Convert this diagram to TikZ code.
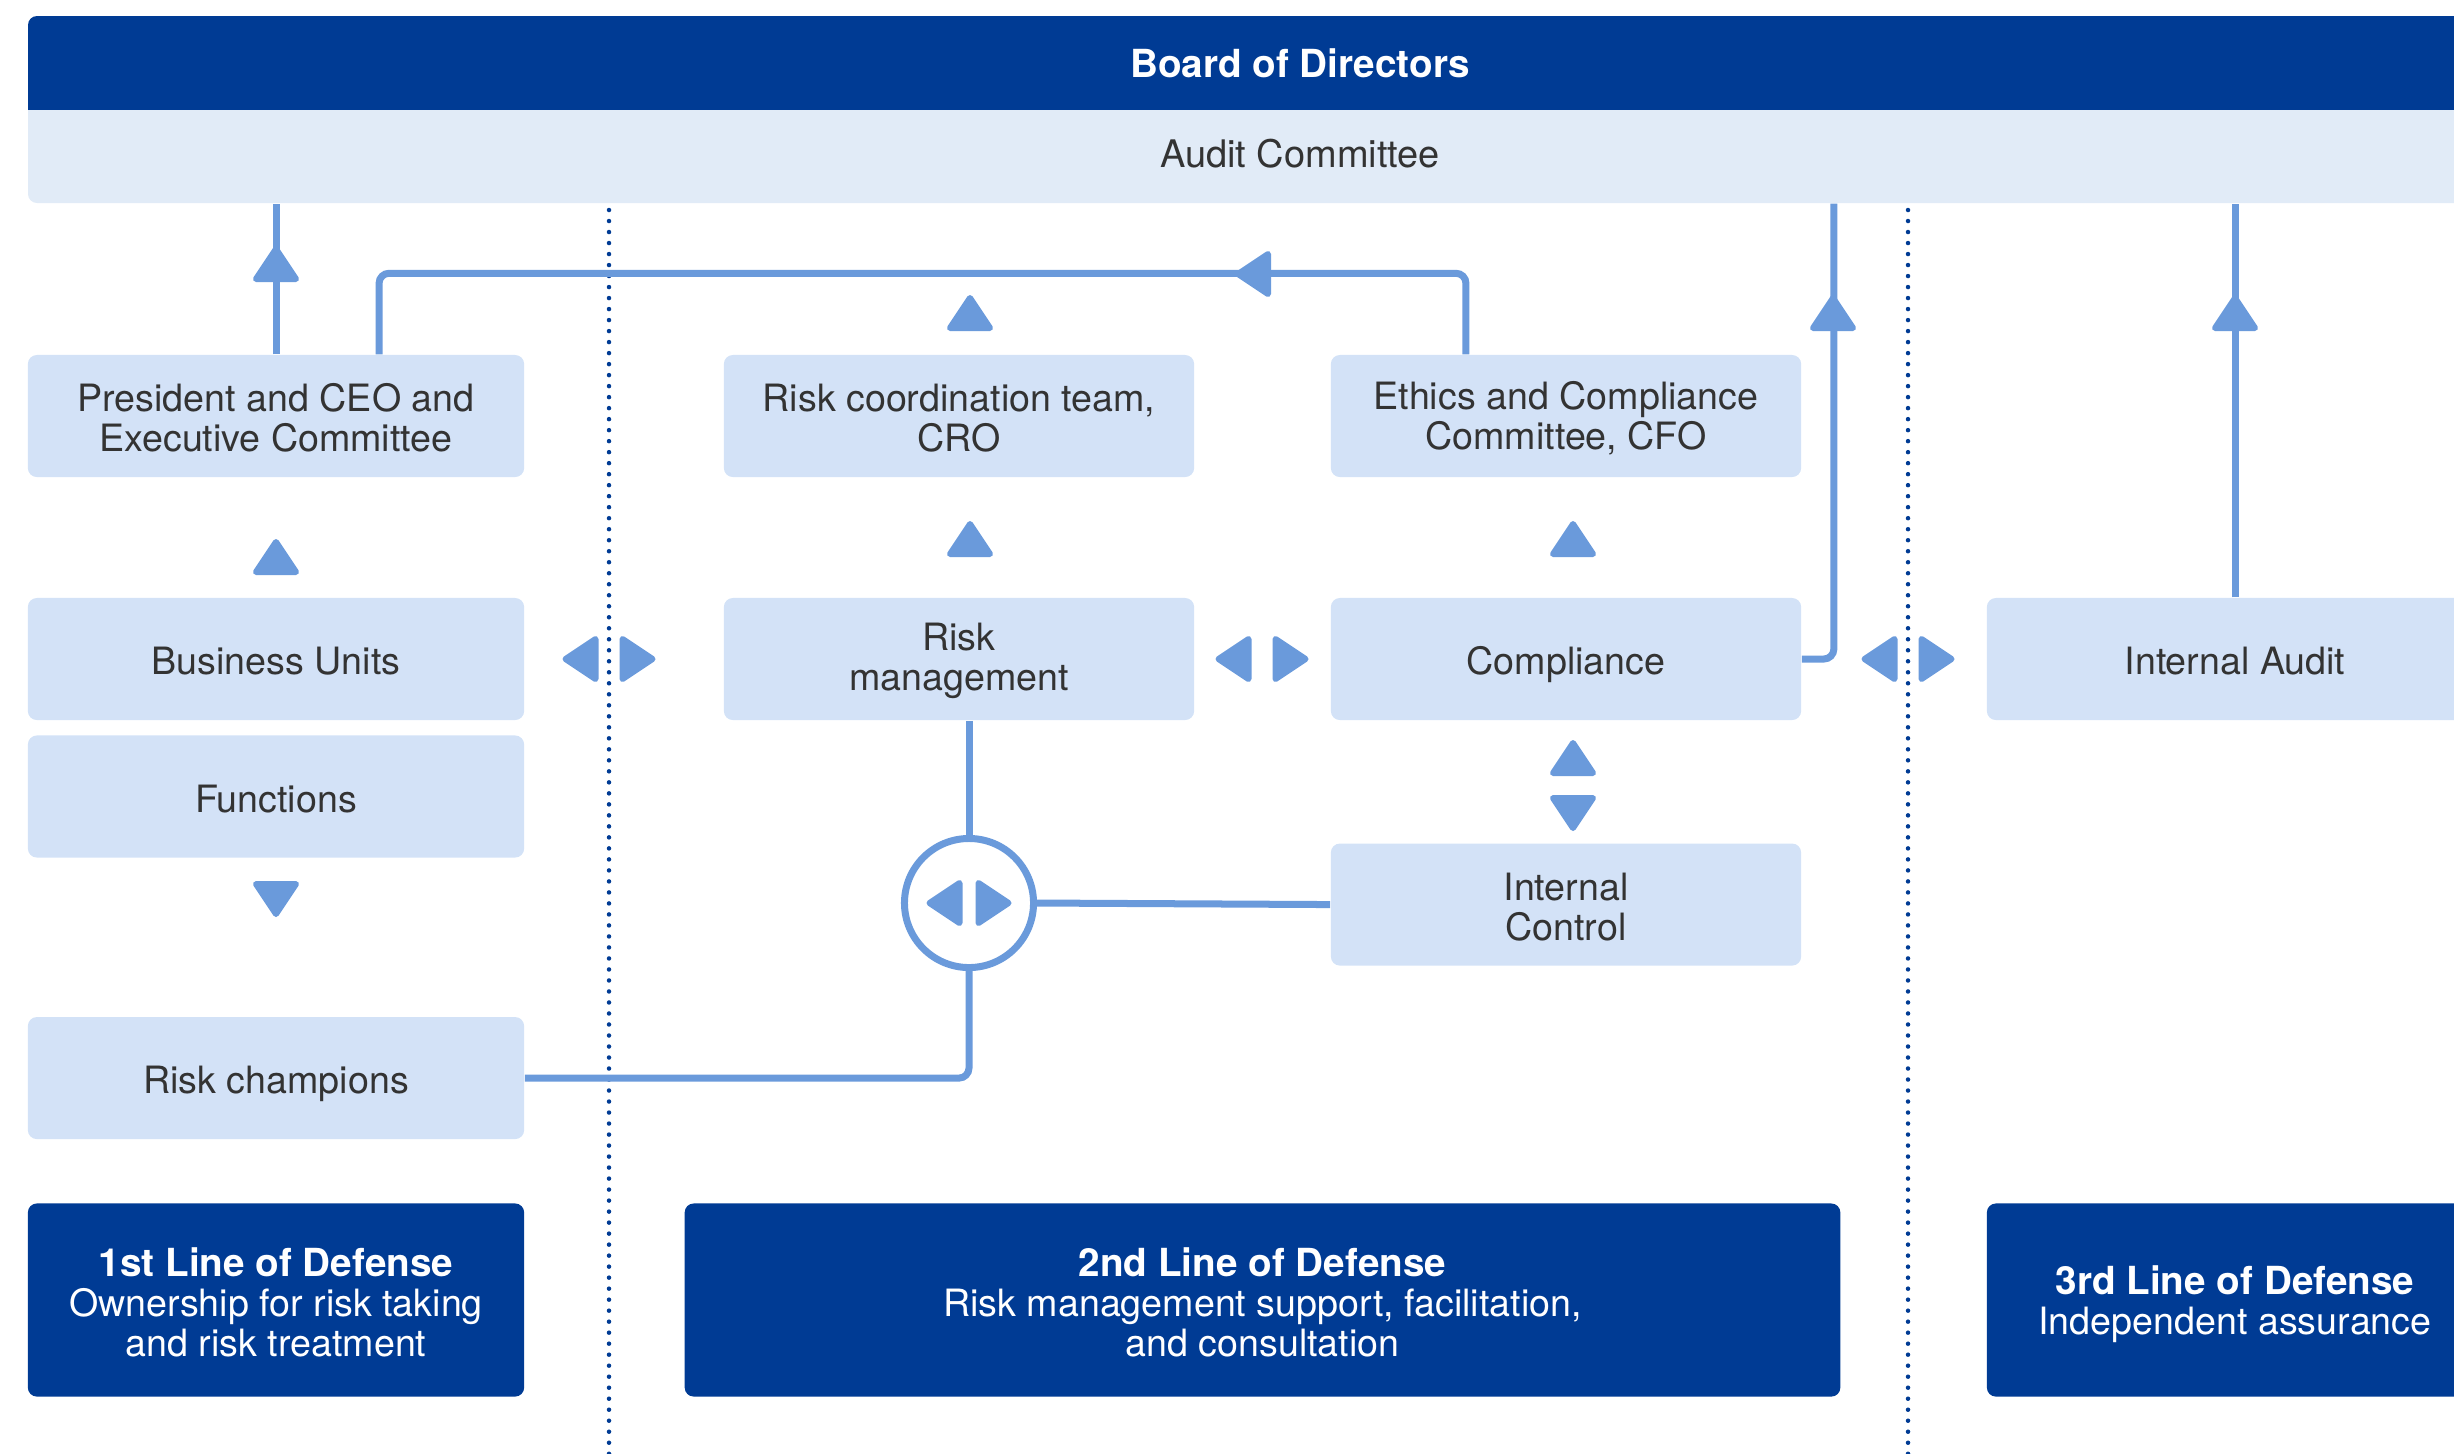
\documentclass[tikz,border=0pt]{standalone}
\usepackage{fontspec}
\setmainfont{TeX Gyre Heros}
\usetikzlibrary{calc, positioning}
\definecolor{navy}{RGB}{0,59,148}
\definecolor{boxblue}{RGB}{211,226,247}
\definecolor{auditblue}{RGB}{225,235,247}
\definecolor{linkblue}{RGB}{106,154,219}
\definecolor{txtgray}{RGB}{51,51,51}
\newcommand{\liftline}[1]{\rule{0pt}{#1}}

\begin{document}
\begin{tikzpicture}[x=0.01cm, y=-0.01cm,
unit/.style={rectangle, rounded corners=0.09cm, fill=boxblue, text=txtgray, align=center,
 inner sep=0pt, minimum width=4.96cm, minimum height=1.22cm, font=\fontsize{10.7}{11.4}\selectfont},
one/.style={execute at begin node={\rule{0pt}{0.39cm}}, execute at end node={\rule[-0.08cm]{0pt}{0pt}}},
unitn/.style={unit, minimum width=4.70cm},
header/.style={rectangle, inner sep=0pt, minimum width=25.44cm},
defense/.style={unit, fill=navy, text=white, minimum height=1.93cm},
link/.style={draw=linkblue, line width=0.07cm, rounded corners=0.1cm},
sep/.style={draw=navy, line width=0.045cm, line cap=round, dash pattern=on 0pt off 0.11cm},
tri/.pic={\filldraw[linkblue, line width=0.06cm, line join=round] (0,-15) -- (20,15) -- (-20,15) -- cycle;}]
 \path[use as bounding box, clip] (0,0) rectangle (2454,1453);

 \fill[navy] (28,110) -- (28,25) arc[start angle=180, end angle=90, radius=0.09cm]
 -- (2572,16) -- (2572,110) -- cycle;
 \fill[auditblue] (28,110) -- (28,194) arc[start angle=180, end angle=270, radius=0.09cm]
 -- (2572,203) -- (2572,110) -- cycle;
 \node[header, text=white, minimum height=0.94cm,
 font=\fontsize{11}{13}\selectfont\bfseries] (board) at (1300,63) {Board of Directors};
 \node[header, text=txtgray, minimum height=0.93cm,
 font=\fontsize{10.8}{13}\selectfont] (audit) at (1300,156.5) {\raisebox{0.07cm}{Audit Committee}};

 \foreach \X in {609,1908} {
 \draw[sep] (\X,210) -- (\X,1470);
 }

 \node[unit] (ceo) at (276,416) {\liftline{0.32cm}President and CEO and\\Executive Committee};
 \node[unitn] (rco) at (959,416) {\liftline{0.32cm}Risk coordination team,\\CRO};
 \node[unitn] (ecc) at (1566,416) {\liftline{0.32cm}Ethics and Compliance\\Committee, CFO};

 \node[unit, one] (bu) at (276,659) {Business Units};
 \node[unit, one, below=0.14cm of bu] (fn) {Functions};
 \node[unit, one, below=1.58cm of fn] (rch) {Risk champions};
 \node[unitn] (rm) at (959,659) {\liftline{0.32cm}Risk\\management};
 \node[unitn, one] (comp) at (1566,659) {Compliance};
 \node[unitn, below=1.22cm of comp] (ic) {\liftline{0.32cm}Internal\\Control};
 \node[unit, one] (ia) at (2235,659) {Internal Audit};

 \node[circle, draw=linkblue, line width=0.07cm, fill=white, minimum size=1.29cm,
 inner sep=0pt] (hub) at (969,903) {};

 \node[defense] (l1) at (276,1300)
 {\liftline{0.34cm}{\fontsize{11}{11.4}\selectfont\bfseries 1st Line of Defense}\\Ownership for risk taking\\and risk treatment};
 \node[defense, minimum width=11.55cm] (l2) at (1262.5,1300)
 {\liftline{0.34cm}{\fontsize{11}{11.4}\selectfont\bfseries 2nd Line of Defense}\\Risk management support, facilitation,\\and consultation};
 \node[defense] (l3) at (2235,1300)
 {\liftline{0.37cm}{\fontsize{11}{11.4}\selectfont\bfseries 3rd Line of Defense}\\Independent assurance};

 \coordinate (ceoR) at ([xshift=1.03cm]ceo.north);
 \coordinate (eccL) at ([xshift=-1cm]ecc.north);
 \coordinate (compR) at ([xshift=0.32cm]comp.east);

 \draw[link] (ceo.north) -- (ceo.north |- audit.south);
 \draw[link] (ceoR) |- ($(eccL)+(0,-81)$) -- (eccL);
 \draw[link] (comp.east) -| (compR |- audit.south);
 \draw[link] (ia.north) -- (ia.north |- audit.south);
 \draw[link] (hub.north |- rm.south) -- (hub.north);
 \draw[link] (hub.east) -- (ic.west);
 \draw[link] (hub.south) |- (rch.east);

 \foreach \X/\Y in {276/264, 970/313, 276/557, 970/539, 1573/539, 1573/758, 1833/313, 2235/313} {
 \pic at (\X,\Y) {tri};
 }
 \foreach \X/\Y in {1573/813, 276/899} {
 \pic[rotate=180] at (\X,\Y) {tri};
 }
 \pic[rotate=90] at (1253,274) {tri};

 \foreach \X/\Y/\D in {609/659/28.5, 1262/659/28.5, 1908/659/28.5, 969/903/24.5} {
 \pic[rotate=90] at (\X-\D,\Y) {tri};
 \pic[rotate=-90] at (\X+\D,\Y) {tri};
 }

\end{tikzpicture}
\end{document}
